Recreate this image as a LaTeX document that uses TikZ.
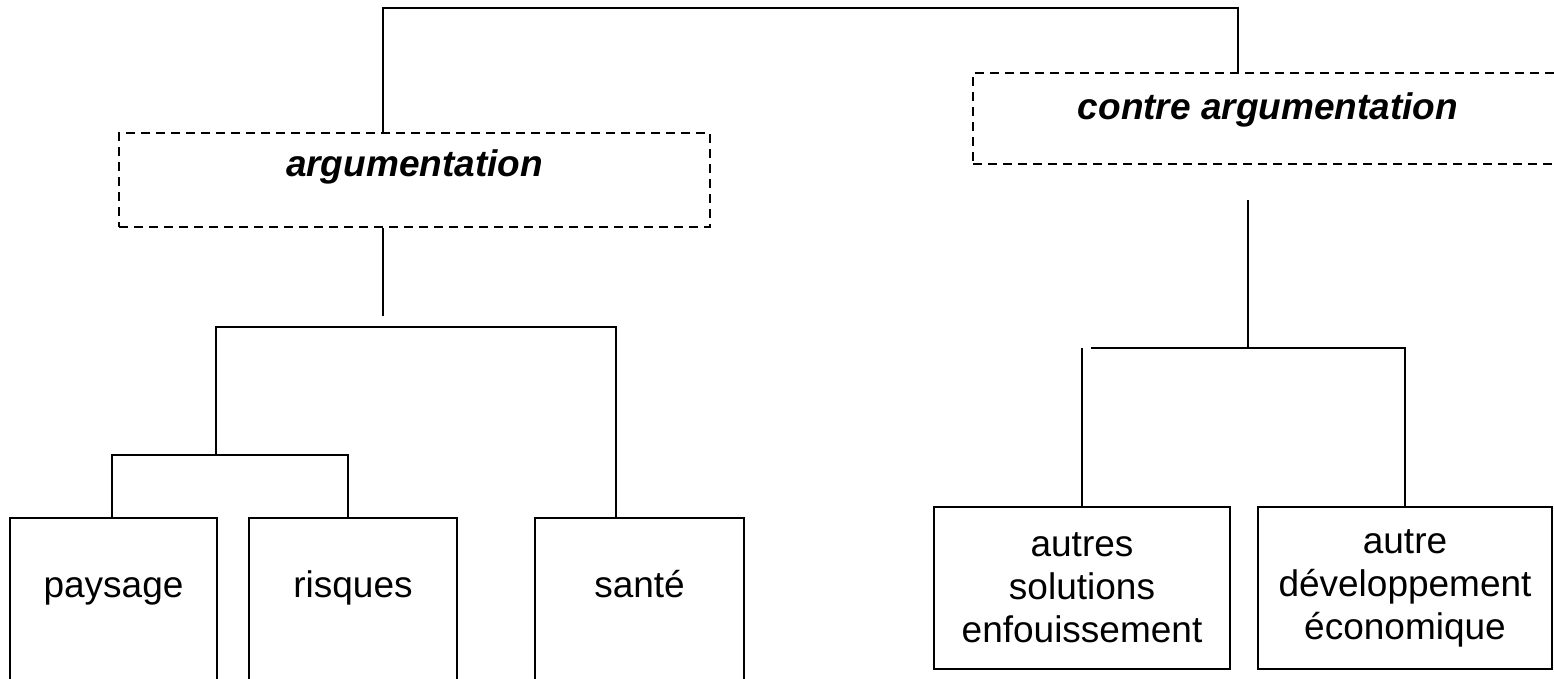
\documentclass[tikz,border=0pt]{standalone}
\usepackage{fontspec}
\setmainfont{Liberation Sans}
\newcommand{\leaffont}{\fontsize{37}{43}\selectfont}
\newcommand{\titlefont}{\fontsize{37}{43}\selectfont\bfseries\itshape}
\tikzset{
  dashbox/.style={draw, line width=2pt, dash pattern=on 9pt off 6pt, inner sep=0pt, anchor=north west, font=\titlefont},
  leafbox/.style={draw, line width=2pt, inner sep=0pt, anchor=north west, font=\leaffont, align=center},
  link/.style={line width=2pt}
}
\begin{document}
\begin{tikzpicture}[x=1pt, y=-1pt]
		\clip (0,0) rectangle (1554,678);
		% upper level
		\node[dashbox, minimum width=591pt, text height=43pt, text depth=51pt] (argu) at (118,132) {argumentation};
		\node[dashbox, minimum width=590pt, text height=46pt, text depth=45pt] (contre) at (972,72) {contre argumentation};
		% left leaves
		\node[leafbox, minimum width=207pt, text height=79pt, text depth=120pt] (pays) at (9,517) {paysage};
		\node[leafbox, minimum width=208pt, text height=79pt, text depth=120pt] (risq) at (248,517) {risques};
		\node[leafbox, minimum width=209pt, text height=79pt, text depth=120pt] (sante) at (534,517) {santé};
		% right leaves
		\node[leafbox, minimum width=296pt, minimum height=162pt] (sol) at (933,506) {autres\\solutions\\enfouissement};
		\node[leafbox, minimum width=294pt, minimum height=162pt] (dev) at (1257,506) {autre\\développement\\économique};
		% junctions
		\coordinate (ja) at (383,8);
		\coordinate (jc) at (1238,8);
		\coordinate (ka) at (383,316);
		\coordinate (bar1) at (216,327);
		\coordinate (bar2) at (216,455);
		\coordinate (rtop) at (1248,200);
		\coordinate (rbar) at (1248,348);
		\coordinate (rbarl) at (1091,348);
		% links
		\draw[link] (argu.north -| ja) -- (ja) -- (jc) -- (contre.north -| jc);
		\draw[link] (argu.south -| ka) -- (ka);
		\draw[link] (bar2) -- (bar1) -| ([xshift=-24pt]sante.north);
		\draw[link] ([xshift=-2pt]pays.north) |- (bar2) -| ([xshift=-5pt]risq.north);
		\draw[link] (rtop) -- (rbar);
		\draw[link] (rbarl) -| (dev.north);
		\draw[link] (sol.north) -- (sol.north |- rbarl);
\end{tikzpicture}
\end{document}
